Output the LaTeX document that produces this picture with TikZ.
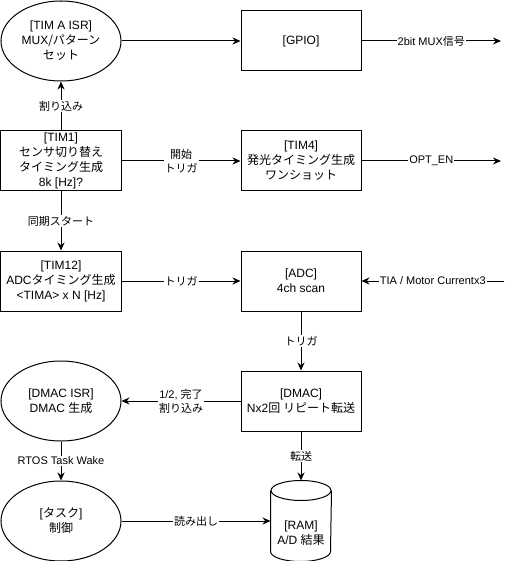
\documentclass[tikz,border=0pt]{standalone}
\usepackage{fontspec}
\setmainfont{Liberation Sans}
\newfontfamily\jpfont{Noto Sans CJK JP}
\newcommand{\ja}[1]{{\jpfont #1}}
\usetikzlibrary{positioning}
\usetikzlibrary{arrows.meta}
\usetikzlibrary{shapes.geometric}

\begin{document}
\begin{tikzpicture}[
                      x=1pt, y=-1pt, line width=1pt,
                      every node/.style={font=\fontsize{12}{15}\selectfont, align=center},
                      blk/.style={rectangle, draw, minimum width=120pt, minimum height=60pt, inner sep=0pt},
                      isr/.style={ellipse, draw, minimum width=120pt, minimum height=80pt, inner sep=0pt},
                      lbl/.style={fill=white, inner sep=1pt, font=\fontsize{11}{14}\selectfont},
                      ->/.style={-{Stealth[length=8pt,width=7pt]}}
                  ]
                  \useasboundingbox (-1,-1) rectangle (508,560);
                  % top row
                  \node[isr] at (60,40) (isra) {{}[TIM A ISR]\\MUX\ja{/パターン}\\\ja{セット}};
                  \node[blk] at (300,40) (gpio) {{}[GPIO]};
                  \coordinate (muxout) at (500,40);
                  % timers
                  \node[blk] at (60,160) (tim1) {{}[TIM1]\\\ja{センサ切り替え}\\\ja{タイミング生成}\\8k [Hz]?};
                  \node[blk] at (300,160) (tim4) {{}[TIM4]\\\ja{発光タイミング生成}\\\ja{ワンショット}};
                  \coordinate (optout) at (500,160);
                  \node[blk] at (60,280) (tim12) {{}[TIM12]\\ADC\ja{タイミング生成}\\<TIMA> x N [Hz]};
                  \node[blk] at (300,280) (adc) {{}[ADC]\\4ch scan};
                  \coordinate (tiain) at (503,280);
                  % dma and task
                  \node[blk] at (300,400) (dmac) {{}[DMAC]\\Nx2\ja{回 リピート転送}};
                  \node[isr] at (60,400) (dmaisr) {{}[DMAC ISR]\\DMAC \ja{生成}};
                  \node[isr] at (60,520) (task) {{}[\ja{タスク}]\\\ja{制御}};
                  \node[minimum width=60pt, minimum height=80pt, inner sep=0pt,
                        label={[yshift=-12pt]center:{{}[RAM]\\A/D \ja{結果}}}] at (300,520) (ram) {};
                  \draw ([yshift=-10pt]ram.north west) -- ([yshift=10pt]ram.south west)
                        arc[start angle=180, end angle=360, x radius=30pt, y radius=10pt]
                        -- ([yshift=-10pt]ram.north east);
                  \draw ([yshift=-10pt]ram.north) ellipse [x radius=30pt, y radius=10pt];
                  % connectors
                  \draw[->] (isra) -- (gpio);
                  \draw[->] (gpio) -- node[lbl] {2bit MUX\ja{信号}} (muxout);
                  \draw[->] (tim1) -- node[lbl] {\ja{割り込み}} (isra);
                  \draw[->] (tim1) -- node[lbl] {\ja{開始}\\\ja{トリガ}} (tim4);
                  \draw[->] (tim4) -- node[lbl] {OPT\_EN} (optout);
                  \draw[->] (tim1) -- node[lbl] {\ja{同期スタート}} (tim12);
                  \draw[->] (tim12) -- node[lbl] {\ja{トリガ}} (adc);
                  \draw[->] (tiain) -- node[lbl] {TIA / Motor Currentx3} (adc);
                  \draw[->] (adc) -- node[lbl] {\ja{トリガ}} (dmac);
                  \draw[->] (dmac) -- node[lbl] {1/2, \ja{完了}\\\ja{割り込み}} (dmaisr);
                  \draw[->] (dmac) -- node[lbl] {\ja{転送}} (ram);
                  \draw[->] (dmaisr) -- node[lbl] {RTOS Task Wake} (task);
                  \draw[->] (task) -- node[lbl] {\ja{読み出し}} (ram);
              \end{tikzpicture}
\end{document}
